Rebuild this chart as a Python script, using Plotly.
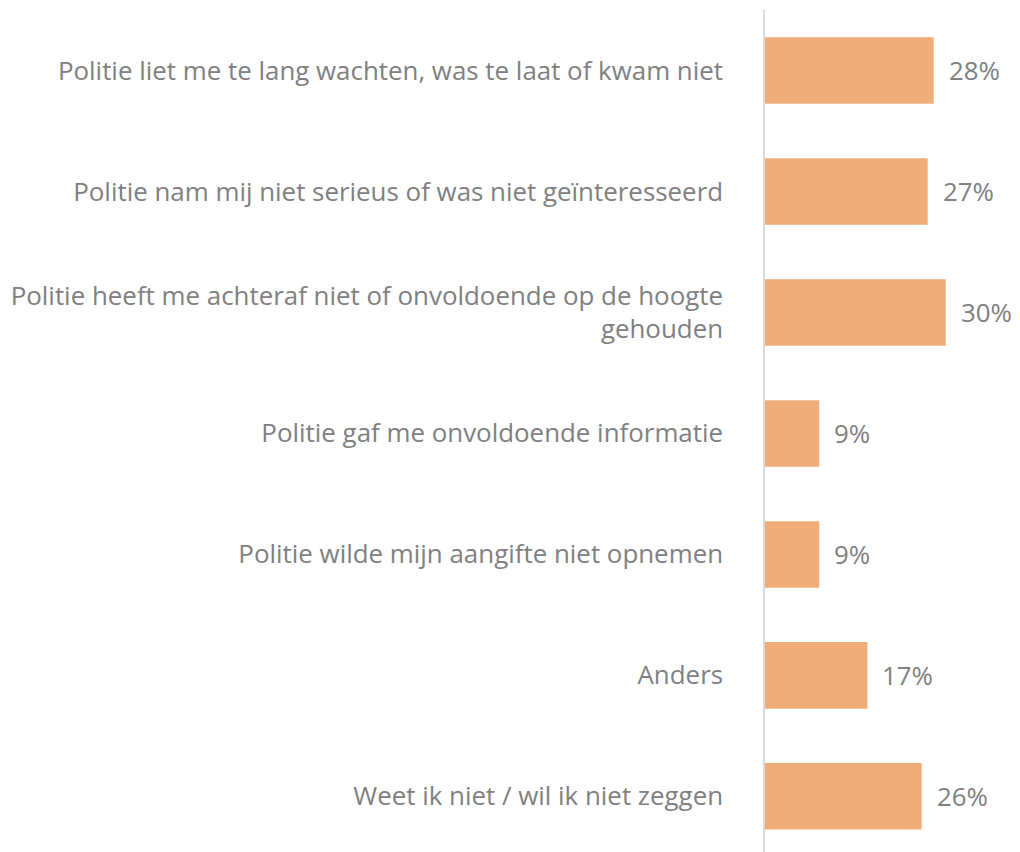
import plotly.graph_objects as go

categories = [
    "Politie liet me te lang wachten, was te laat of kwam niet",
    "Politie nam mij niet serieus of was niet geïnteresseerd",
    "Politie heeft me achteraf niet of onvoldoende op de hoogte<br>gehouden",
    "Politie gaf me onvoldoende informatie",
    "Politie wilde mijn aangifte niet opnemen",
    "Anders",
    "Weet ik niet / wil ik niet zeggen",
]
values = [28, 27, 30, 9, 9, 17, 26]
value_labels = ["28%", "27%", "30%", "9%", "9%", "17%", "26%"]

BAR = "#F0AD78"
TXT = "#808080"
FONT = "Open Sans"
FS = 25.9

fig = go.Figure()
fig.add_trace(go.Bar(
    x=values, y=categories, orientation="h",
    marker=dict(color=BAR, line=dict(width=0)),
    width=0.55, hoverinfo="skip",
))
for c, v, t in zip(categories, values, value_labels):
    fig.add_annotation(x=v, y=c, text=t, showarrow=False, xanchor="left",
                       xshift=13, font=dict(family=FONT, size=FS, color=TXT))

fig.update_layout(
    width=1012, height=844,
    margin=dict(l=757, r=14, t=2, b=0),
    paper_bgcolor="white", plot_bgcolor="white",
    showlegend=False,
    font=dict(family=FONT, size=FS, color=TXT),
    xaxis=dict(range=[0, 40], visible=False, showgrid=False, zeroline=False),
    yaxis=dict(
        type="category", range=[6.46, -0.5], showgrid=False, zeroline=False,
        showline=True, linecolor="#d9d9d9", linewidth=1.5,
        ticks="", ticklabelstandoff=35,
        tickfont=dict(family=FONT, size=FS, color=TXT),
    ),
)
fig.write_html("out.html")
